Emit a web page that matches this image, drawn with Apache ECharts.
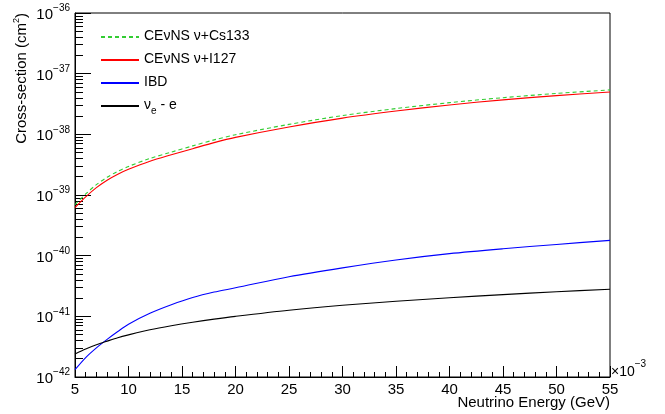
<!DOCTYPE html>
<html>
<head>
<meta charset="utf-8">
<script src="https://cdn.jsdelivr.net/npm/echarts@6/dist/echarts.min.js"></script>
<style>
  html, body { margin: 0; padding: 0; background: #fff; }
  #chart { width: 665px; height: 414px; }
</style>
</head>
<body>
<div id="chart"></div>
<script>
// neutrino energy, in units of 10^-3 GeV
var energy = [5, 6, 7, 8, 9, 10, 12, 14, 16, 18, 20, 25, 30, 35, 40, 45, 50, 55];
// cross-sections in cm^2
var cevnsCs133 = [6.95e-40, 1.04e-39, 1.48e-39, 1.96e-39, 2.46e-39, 2.96e-39, 4.0e-39, 5.1e-39, 6.45e-39,
                  8.1e-39, 9.85e-39, 1.46e-38, 2.04e-38, 2.66e-38, 3.33e-38, 4.02e-38, 4.72e-38, 5.4e-38];
var cevnsI127 = [6.2e-40, 9.3e-40, 1.32e-39, 1.75e-39, 2.2e-39, 2.65e-39, 3.6e-39, 4.6e-39, 5.8e-39,
                 7.3e-39, 8.9e-39, 1.32e-38, 1.85e-38, 2.42e-38, 3.05e-38, 3.7e-38, 4.35e-38, 5.0e-38];
var ibd = [1.32e-42, 2.09e-42, 3.02e-42, 4.17e-42, 5.62e-42, 7.41e-42, 1.12e-41, 1.55e-41, 2.04e-41,
           2.51e-41, 2.95e-41, 4.5e-41, 6.3e-41, 8.5e-41, 1.08e-40, 1.3e-40, 1.53e-40, 1.79e-40];
var nueE = [2.4e-42, 2.9e-42, 3.4e-42, 3.9e-42, 4.45e-42, 4.95e-42, 6.0e-42, 7.0e-42, 8.0e-42,
            9.0e-42, 1.0e-41, 1.26e-41, 1.52e-41, 1.77e-41, 2.03e-41, 2.28e-41, 2.54e-41, 2.8e-41];

// y tick labels are powers of ten
var yExpMin = -42, yExpMax = -36;
var decadeExps = [-42, -41, -40, -39, -38, -37];
var minorMults = [2, 3, 4, 5, 6, 7, 8, 9];

var FONT = "'Liberation Sans', Arial, Helvetica, sans-serif";

var minorY = [];
decadeExps.forEach(function (d) {
    minorMults.forEach(function (m) { minorY.push(d + Math.log10(m)); });
});

function pairs(arr) {
    return energy.map(function (e, i) { return [e, arr[i]]; });
}

function mkLine(name, arr, color, type) {
    return {
        name: name,
        type: 'line',
        xAxisIndex: 0,
        yAxisIndex: 0,
        data: pairs(arr),
        symbol: 'none',
        smooth: 0.3,
        lineStyle: { color: color, width: 1.1, type: type || 'solid' },
        itemStyle: { color: color },
        z: 3
    };
}

var myChart = echarts.init(document.getElementById('chart'), null, { renderer: 'canvas' });

var option = {
    backgroundColor: '#fff',
    animation: false,
    textStyle: { fontFamily: FONT },
    grid: {
        left: 75, right: 55, top: 13, bottom: 37,
        show: true, borderColor: '#000', borderWidth: 1, backgroundColor: 'transparent'
    },
    legend: {
        orient: 'vertical',
        left: 95,
        top: 24,
        itemWidth: 38,
        itemHeight: 14,
        itemGap: 9,
        itemStyle: { opacity: 0 },
        data: ['CEνNS ν+Cs133', 'CEνNS ν+I127', 'IBD', 'νe - e'],
        formatter: function (name) {
            if (name === 'νe - e') return '{n|ν}{sub|e}{n| - e}';
            return '{n|' + name + '}';
        },
        textStyle: {
            color: '#000',
            fontFamily: FONT,
            fontSize: 14,
            rich: {
                n: { fontSize: 14, lineHeight: 16, fontFamily: FONT, color: '#000', verticalAlign: 'top' },
                sub: { fontSize: 10, lineHeight: 10, fontFamily: FONT, color: '#000', verticalAlign: 'top', padding: [8, 0, 0, 0] }
            }
        }
    },
    xAxis: {
        type: 'value',
        min: 5,
        max: 55,
        interval: 5,
        axisLine: { lineStyle: { color: '#000', width: 1 } },
        axisTick: { inside: true, length: 11, lineStyle: { color: '#000' } },
        minorTick: { show: true, splitNumber: 5, length: 5, lineStyle: { color: '#000' } },
        axisLabel: { color: '#000', fontSize: 15, fontFamily: FONT, margin: 5 },
        splitLine: { show: false }
    },
    yAxis: [
        {
            type: 'log',
            logBase: 10,
            min: 1e-42,
            max: 1e-36,
            show: false
        },
        {
            type: 'value',
            min: yExpMin,
            max: yExpMax,
            interval: 1,
            position: 'left',
            axisLine: { show: true, lineStyle: { color: '#000', width: 1 } },
            axisTick: { inside: true, length: 16, lineStyle: { color: '#000' } },
            axisLabel: {
                margin: 5,
                formatter: function (v) { return '{b|10}{s|−' + Math.abs(v) + '}'; },
                rich: {
                    b: { fontSize: 15, lineHeight: 19, fontFamily: FONT, color: '#000', verticalAlign: 'bottom' },
                    s: { fontSize: 10, lineHeight: 11, fontFamily: FONT, color: '#000', verticalAlign: 'top' }
                }
            },
            splitLine: { show: false }
        },
        {
            type: 'value',
            min: yExpMin,
            max: yExpMax,
            position: 'left',
            axisLine: { show: false },
            axisTick: { inside: true, length: 8, customValues: minorY, lineStyle: { color: '#000' } },
            axisLabel: { show: false },
            splitLine: { show: false }
        }
    ],
    graphic: [
        {
            type: 'text',
            x: 21, y: 13,
            rotation: Math.PI / 2,
            style: {
                text: '{t|Cross-section (cm}{s|2}{t|)}',
                align: 'right',
                verticalAlign: 'middle',
                rich: {
                    t: { fontSize: 15, lineHeight: 17, fontFamily: FONT, fill: '#000', verticalAlign: 'bottom' },
                    s: { fontSize: 9, lineHeight: 10, fontFamily: FONT, fill: '#000', verticalAlign: 'top' }
                }
            }
        },
        {
            type: 'text',
            x: 610, y: 403,
            style: {
                text: 'Neutrino Energy (GeV)',
                font: '15px ' + FONT,
                fill: '#000',
                align: 'right',
                verticalAlign: 'middle'
            }
        },
        {
            type: 'text',
            x: 611, y: 369,
            style: {
                text: '{b|×10}{s|−3}',
                align: 'left',
                verticalAlign: 'middle',
                rich: {
                    b: { fontSize: 14, lineHeight: 20, fontFamily: FONT, fill: '#000', verticalAlign: 'bottom' },
                    s: { fontSize: 10, lineHeight: 10, fontFamily: FONT, fill: '#000', verticalAlign: 'top' }
                }
            }
        }
    ],
    series: [
        mkLine('CEνNS ν+Cs133', cevnsCs133, '#33cc33', [4, 3]),
        mkLine('CEνNS ν+I127', cevnsI127, '#ff0000'),
        mkLine('IBD', ibd, '#0000ff'),
        mkLine('νe - e', nueE, '#000000')
    ]
};

myChart.setOption(option);
</script>
</body>
</html>
